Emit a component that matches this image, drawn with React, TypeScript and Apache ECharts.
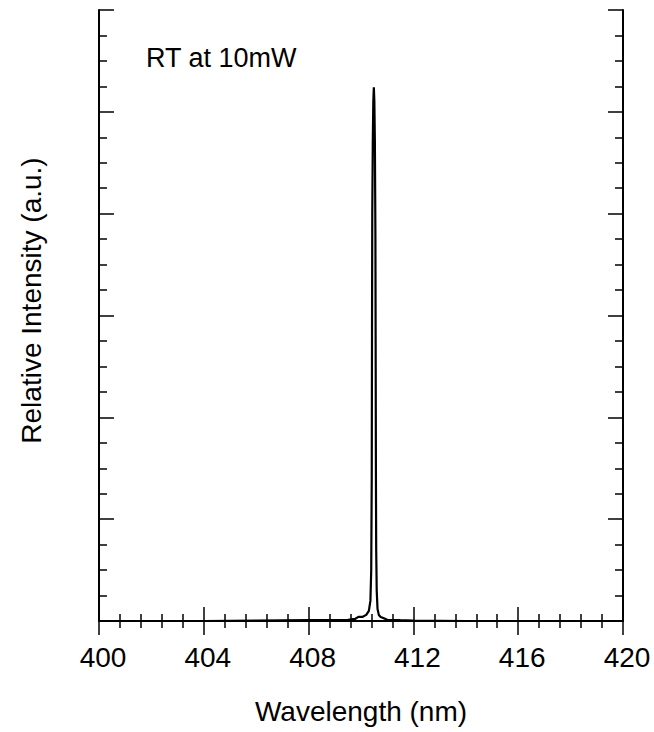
import React, { useEffect, useRef } from "react";
import * as echarts from "echarts";

const wavelengths = [
  400.0, 402.0, 404.0, 406.0, 408.0, 409.0, 409.5, 409.77, 409.9, 410.05, 410.2, 410.3,
  410.36, 410.39, 410.41, 410.42, 410.43, 410.45, 410.47, 410.49, 410.51, 410.53,
  410.55, 410.56, 410.57, 410.58, 410.6, 410.63, 410.68, 410.75, 410.85, 411.0,
  411.5, 412.0, 414.0, 416.0, 418.0, 420.0,
];
const intensities = [
  0.0, 0.0, 0.0, 0.005, 0.008, 0.01, 0.012, 0.02, 0.04, 0.04, 0.06, 0.1,
  0.2, 0.5, 1.4, 2.8, 4.0, 4.7, 5.1, 5.24, 5.1, 4.7,
  3.8, 2.6, 1.4, 0.7, 0.3, 0.12, 0.06, 0.04, 0.03, 0.012,
  0.008, 0.005, 0.0, 0.0, 0.0, 0.0,
];
const xTickLabels = ["400", "404", "408", "412", "416", "420"];
const yMax = 6;
const insetLabel = "RT at 10mW";
const xTitle = "Wavelength (nm)";
const yTitle = "Relative Intensity (a.u.)";

const FONT = "'Liberation Sans', Arial, Helvetica, sans-serif";

export default function App() {
  const ref = useRef<HTMLDivElement>(null);
  useEffect(() => {
    if (!ref.current) return;
    const chart = echarts.init(ref.current, undefined, { renderer: "svg" });
    const axisLine = { show: true, lineStyle: { color: "#000", width: 2 } };
    const xCommon = {
      type: "value" as const,
      min: 400,
      max: 420,
      interval: 4,
      axisLine,
      axisTick: { show: true, inside: true, length: 14, lineStyle: { color: "#000", width: 1.5 } },
      minorTick: { show: true, splitNumber: 5, length: 7, lineStyle: { color: "#000", width: 1.5 } },
      splitLine: { show: false },
      minorSplitLine: { show: false },
    };
    const yCommon = {
      type: "value" as const,
      min: 0,
      max: yMax,
      interval: 1,
      axisLine,
      axisLabel: { show: false },
      axisTick: { show: true, inside: true, length: 15, lineStyle: { color: "#000", width: 1.5 } },
      minorTick: { show: true, splitNumber: 4, length: 8, lineStyle: { color: "#000", width: 1.5 } },
      splitLine: { show: false },
      minorSplitLine: { show: false },
    };
    chart.setOption({
      animation: false,
      backgroundColor: "#fff",
      grid: { left: 99, right: 31, top: 10, bottom: 111 },
      xAxis: [
        {
          ...xCommon,
          position: "bottom",
          name: xTitle,
          nameLocation: "middle",
          nameGap: 76,
          nameTextStyle: { fontFamily: FONT, fontSize: 28, color: "#000" },
          axisLabel: {
            show: true,
            margin: 22,
            fontFamily: FONT,
            fontSize: 28,
            color: "#000",
            padding: [0, 0, 0, 8],
            formatter: (v: number) => (xTickLabels.includes(String(v)) ? String(v) : ""),
          },
        },
        { ...xCommon, position: "top", axisLabel: { show: false } },
      ],
      yAxis: [
        {
          ...yCommon,
          position: "left",
          name: yTitle,
          nameLocation: "middle",
          nameGap: 54,
          nameTextStyle: { fontFamily: FONT, fontSize: 28, color: "#000", padding: [0, 0, 0, 30] },
        },
        { ...yCommon, position: "right" },
      ],
      graphic: [
        {
          type: "text",
          left: 146,
          top: 44,
          style: { text: insetLabel, fontFamily: FONT, fontSize: 27, fill: "#000" },
        },
      ],
      series: [
        {
          type: "line",
          data: wavelengths.map((w, i) => [w, intensities[i]]),
          symbol: "none",
          lineStyle: { color: "#000", width: 2.2 },
          xAxisIndex: 0,
          yAxisIndex: 0,
        },
      ],
    });
    return () => chart.dispose();
  }, []);
  return (
    <div
      ref={ref}
      style={{ position: "fixed", left: 0, top: 0, width: 654, height: 732, background: "#fff" }}
    />
  );
}
